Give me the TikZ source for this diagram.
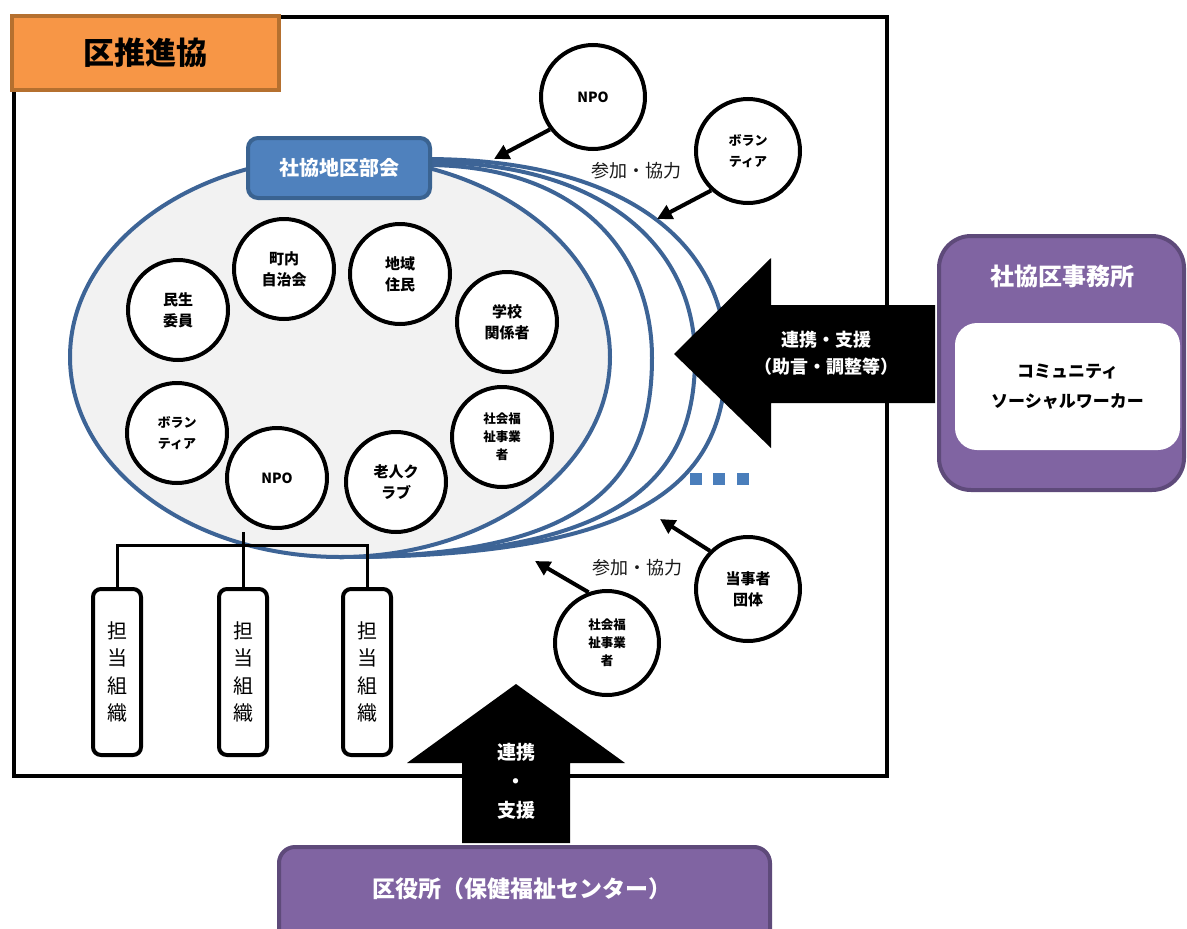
\documentclass[tikz,border=0pt]{standalone}
\usepackage{fontspec}
\setmainfont{Noto Sans CJK JP}
\usetikzlibrary{arrows.meta}
\definecolor{arcblue}{HTML}{3D6496}
\definecolor{boxblue}{HTML}{4F81BD}
\definecolor{boxblueb}{HTML}{3A6391}
\definecolor{orangef}{HTML}{F79646}
\definecolor{orangeb}{HTML}{B5702F}
\definecolor{purplef}{HTML}{8064A2}
\definecolor{purpleb}{HTML}{5E4A7A}
\definecolor{grayfill}{HTML}{F2F2F2}
\definecolor{dotblue}{HTML}{4A7EBB}
\newcommand{\fsz}[2]{\fontsize{#1}{#2}\selectfont}
\begin{document}
\begin{tikzpicture}[x=1pt,y=-1pt,
  circnode/.style={circle,draw=black,line width=4pt,fill=white,minimum size=100pt,inner sep=0pt,align=center,font=\bfseries\fsz{15}{21}},
  bigcirc/.style={circnode,minimum size=104pt},
  smalltext/.style={font=\bfseries\fsz{12.5}{18}},
  bluearc/.style={draw=arcblue,line width=4pt},
  thinarrow/.style={line width=4pt,-{Triangle[length=15pt,width=15pt]}},
  tantobox/.style={draw=black,line width=4pt,fill=white,rounded corners=8pt,minimum width=48pt,minimum height=166pt,align=center,font=\fsz{20}{27.5}},
  conn/.style={line width=3pt},
  sanka/.style={font=\fsz{18}{20},text=black!90},
  whitebold/.style={text=white,font=\bfseries},
]
\useasboundingbox (0,0) rectangle (1187,929);

% outer frame
\draw[line width=4pt] (14,17) rectangle (887,776);

% outer arcs
\draw[bluearc] (425,159) .. controls (632,159) and (726,248) .. (726,358) .. controls (726,485) and (640,557) .. (340,557);
\draw[bluearc] (425,162) .. controls (611,162) and (695,252) .. (695,358) .. controls (695,485) and (615,557) .. (340,557);
\draw[bluearc] (425,165) .. controls (582,165) and (652,256) .. (652,358) .. controls (652,485) and (582,557) .. (340,557);

% main ellipse
\draw[bluearc,fill=grayfill] (340,357) ellipse [x radius=270, y radius=200];

% district meeting box
\node (bukai) [draw=boxblueb,fill=boxblue,line width=4pt,rounded corners=10pt,minimum width=182pt,minimum height=60pt,whitebold,font=\bfseries\fsz{20}{24}] at (339,168) {社協地区部会};

% inner circles
\node (min)  [circnode] at (178,310) {民生\\委員};
\node (cho)  [circnode] at (284,269) {町内\\自治会};
\node (chi)  [circnode] at (400,274) {地域\\住民};
\node (gak)  [circnode] at (507,322) {学校\\関係者};
\node (sfi)  [circnode,smalltext] at (502,437) {社会福\\祉事業\\者};
\node (roj)  [circnode] at (396,482) {老人ク\\ラブ};
\node (npoi) [circnode,font=\bfseries\fsz{14}{18}] at (277,478) {NPO};
\node (voli) [circnode,font=\bfseries\fsz{13}{21}] at (177,433) {ボラン\\ティア};

% tanto boxes and connectors
\node (t1) [tantobox] at (117,672) {担\\当\\組\\織};
\node (t2) [tantobox] at (243,672) {担\\当\\組\\織};
\node (t3) [tantobox] at (367,672) {担\\当\\組\\織};
\coordinate (stem) at (243,532);
\coordinate (bus) at (243,545);
\draw[conn] (stem) -- (t2.north);
\draw[conn] (t1.north) |- (bus) -| (t3.north);

% outer circles
\node (npoT) [bigcirc,font=\bfseries\fsz{14}{18}] at (593,97) {NPO};
\node (volT) [bigcirc,font=\bfseries\fsz{13}{21}] at (748,151) {ボラン\\ティア};
\node (toj)  [bigcirc] at (748,589) {当事者\\団体};
\node (sfb)  [bigcirc,smalltext] at (607,643) {社会福\\祉事業\\者};

\coordinate (tipA) at (494,159);
\coordinate (tipB) at (657,219);
\coordinate (tipC) at (660,519);
\coordinate (tipD) at (535,561);
\draw[thinarrow] (npoT.217) -- (tipA);
\draw[thinarrow] (volT.227) -- (tipB);
\draw[thinarrow] (toj.135) -- (tipC);
\draw[thinarrow] (sfb.110) -- (tipD);

\node (sk1) [sanka] at (636,171) {参加・協力};
\node (sk2) [sanka] at (637,568) {参加・協力};

% dots
\fill[dotblue] (690,473) rectangle (702,485);
\fill[dotblue] (713,473) rectangle (725,485);
\fill[dotblue] (737,473) rectangle (749,485);

% left block arrow
\fill[black] (674,354) -- (771,258) -- (771,305) -- (935,305) -- (935,403) -- (771,403) -- (771,448) -- cycle;
\node (renkei1) [whitebold,align=center,font=\bfseries\fsz{18}{27}] at (826,353) {連携・支援\\（助言・調整等）};

% right purple box
\node (jim) [draw=purpleb,fill=purplef,line width=4pt,rounded corners=32pt,minimum width=245pt,minimum height=254pt] at (1061.5,363) {};
\node (jimt) [whitebold,font=\bfseries\fsz{24}{28}] at (1062,276) {社協区事務所};
\node (csw) [fill=white,rounded corners=22pt,minimum width=225pt,minimum height=127pt,align=center,font=\bfseries\fsz{17}{30}] at (1067.5,386.5) {コミュニティ\\ソーシャルワーカー};

% bottom block arrow
\fill[black] (516,684) -- (625,763) -- (570,763) -- (570,843) -- (462,843) -- (462,763) -- (407,763) -- cycle;
\node (renkei2) [whitebold,align=center,font=\bfseries\fsz{19}{29}] at (516,781) {連携\\・\\支援};

% bottom purple box
\node (kuyaku) [draw=purpleb,fill=purplef,line width=4pt,rounded corners=16pt,minimum width=491pt,minimum height=110pt,anchor=north west] at (277,845) {};
\node (kuyakut) [whitebold,font=\bfseries\fsz{23}{28}] at (522,889) {区役所（保健福祉センター）};

% title box
\node (suishin) [fill=orangef,draw=orangeb,line width=4pt,minimum width=267pt,minimum height=74pt,font=\bfseries\fsz{31}{36}] at (145.5,53) {区推進協};
\end{tikzpicture}
\end{document}
